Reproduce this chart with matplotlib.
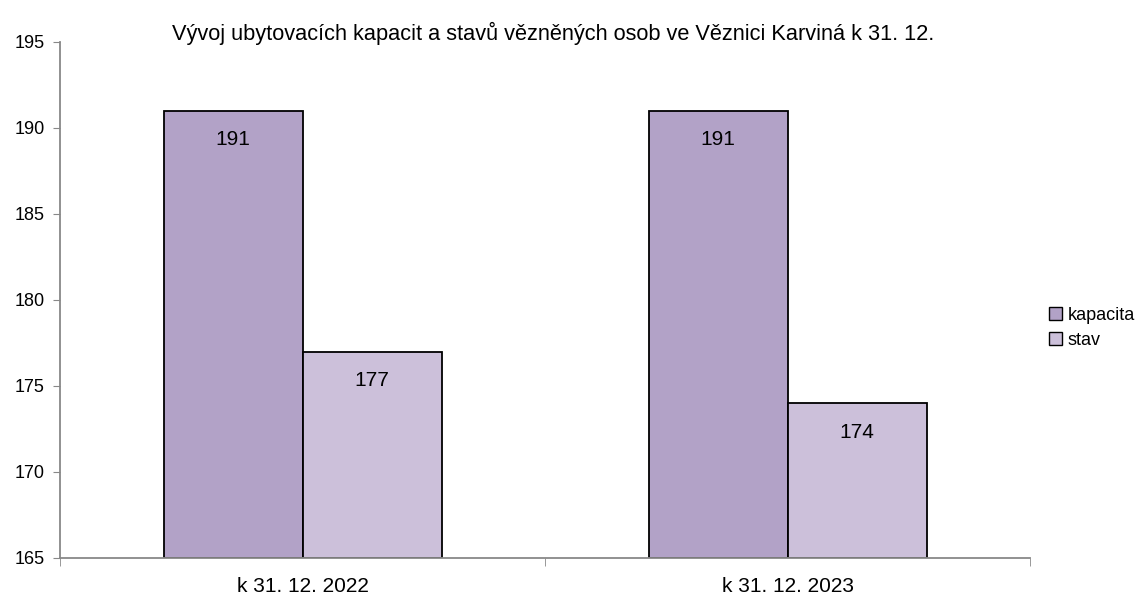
import matplotlib
matplotlib.use("Agg")
import matplotlib.pyplot as plt
from matplotlib.patches import Patch

categories = ["k 31. 12. 2022", "k 31. 12. 2023"]
series_names = ["kapacita", "stav"]
kapacita = [191, 191]
stav = [177, 174]
colors = ["#B2A2C7", "#CCC0DA"]
title = "Vývoj ubytovacích kapacit a stavů vězněných osob ve Věznici Karviná k 31. 12."
y_min, y_max, y_step = 165, 195, 5

plt.rcParams['font.family'] = ['Liberation Sans', 'DejaVu Sans']

fig = plt.figure(figsize=(11.39, 6.04), dpi=100)
ax = fig.add_axes([60/1139, 1-558/604, (1030-60)/1139, (558-42)/604])

w = 139/485
x = list(range(len(categories)))
for i, (vals, name, c) in enumerate(zip([kapacita, stav], series_names, colors)):
    pos = [xi + (i - 0.5) * w for xi in x]
    ax.bar(pos, [v - y_min for v in vals], bottom=y_min, width=w, color=c,
           edgecolor="black", linewidth=1.3, label=name, zorder=2)
    for p, v in zip(pos, vals):
        ax.annotate(str(v), (p, v), xytext=(0, -21), textcoords="offset points",
                    ha="center", va="center", fontsize=15)

ax.set_xlim(-0.5, len(categories) - 0.5)
ax.set_ylim(y_min, y_max)
ax.set_yticks(range(y_min, y_max + 1, y_step))
ax.tick_params(axis='y', labelsize=13, length=5, color="#888888", direction="out", pad=6)
ax.set_xticks(x)
ax.set_xticklabels(categories, fontsize=15)
ax.tick_params(axis='x', which='major', length=0, pad=14)
ax.set_xticks([-0.5 + k for k in range(len(categories) + 1)], minor=True)
ax.tick_params(axis='x', which='minor', length=6, color="#888888", direction="out")
for s in ["top", "right"]:
    ax.spines[s].set_visible(False)
for s in ["left", "bottom"]:
    ax.spines[s].set_color("#888888")
    ax.spines[s].set_linewidth(1.3)

fig.text(553/1139, 1-33/604, title, ha="center", va="center", fontsize=15.7)

handles = [Patch(facecolor=c, edgecolor="black", linewidth=1.0) for c in colors]
fig.legend(handles, series_names, loc="center right", bbox_to_anchor=(1135/1139, 1-328/604),
           frameon=False, fontsize=13, handlelength=0.75, handleheight=0.75,
           handletextpad=0.3, labelspacing=0.45, borderpad=0, borderaxespad=0)

fig.savefig("out.png", dpi=100)
